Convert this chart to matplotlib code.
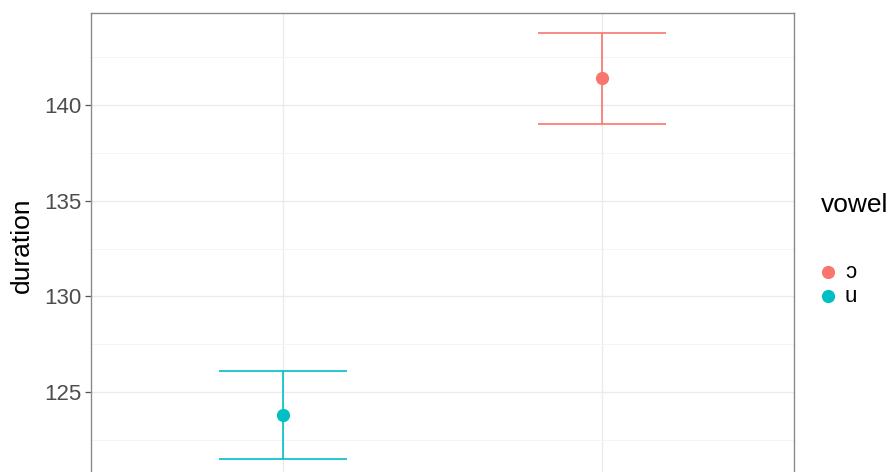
import matplotlib.pyplot as plt
from matplotlib.lines import Line2D

plt.rcParams['font.family'] = ['Liberation Sans', 'DejaVu Sans']

# moyennes de durée par voyelle avec intervalles
vowels = ["u", "ɔ"]
x_pos = [1, 2]
mean_dur = [123.8, 141.4]
lower_dur = [121.5, 139.0]
upper_dur = [126.1, 143.75]
y_major = [125, 130, 135, 140]
y_minor = [122.5, 127.5, 132.5, 137.5, 142.5]
colors = {"ɔ": "#F8766D", "u": "#00BFC4"}
legend_order = ["ɔ", "u"]

W, H = 895, 472
fig = plt.figure(figsize=(W / 100, H / 100), dpi=100)

# panneau : bas volontairement hors figure
ylo, yhi = 118.0, 144.84
px_per_unit = 19.13
top_px = 12.5
bottom_px = top_px + (yhi - ylo) * px_per_unit
ax = fig.add_axes([91 / W, (H - bottom_px) / H, (794 - 91) / W, (bottom_px - top_px) / H])
ax.set_xlim(0.4, 2.6)
ax.set_ylim(ylo, yhi)

# grille façon theme_bw
ax.set_yticks(y_major)
ax.set_yticks(y_minor, minor=True)
ax.set_xticks(x_pos)
ax.set_xticklabels([])
ax.grid(which="major", color="#EBEBEB", linewidth=1.0)
ax.grid(which="minor", axis="y", color="#F3F3F3", linewidth=0.6)
ax.set_axisbelow(True)
for s in ax.spines.values():
    s.set_color("#8A8A8A")
    s.set_linewidth(1.0)
ax.tick_params(axis="y", which="major", length=4, width=0.9, color="#555555",
               labelsize=16, labelcolor="#4D4D4D", pad=3)
ax.tick_params(axis="y", which="minor", length=0)
ax.tick_params(axis="x", length=0)

# barres d'erreur + points
for v, x, m, lo, hi in zip(vowels, x_pos, mean_dur, lower_dur, upper_dur):
    c = colors[v]
    ax.vlines(x, lo, hi, color=c, linewidth=1.2, zorder=3)
    ax.hlines([lo, hi], x - 0.2, x + 0.2, color=c, linewidth=1.2, zorder=3)
    ax.plot(x, m, "o", color=c, markersize=8.5, zorder=4)

fig.text(22 / W, 1 - 245 / H, "duration", rotation=90, ha="center", va="center",
         fontsize=19, color="black")

# légende
fig.text(821 / W, 1 - 205 / H, "vowel", ha="left", va="center", fontsize=19)
for i, v in enumerate(legend_order):
    yk = 1 - (272 + 24 * i) / H
    fig.add_artist(Line2D([828 / W], [yk], marker="o", linestyle="", color=colors[v],
                          markersize=8.5, transform=fig.transFigure))
    fig.text(845 / W, yk, v, ha="left", va="center", fontsize=16, color="black")

fig.savefig("out.png", dpi=100)
